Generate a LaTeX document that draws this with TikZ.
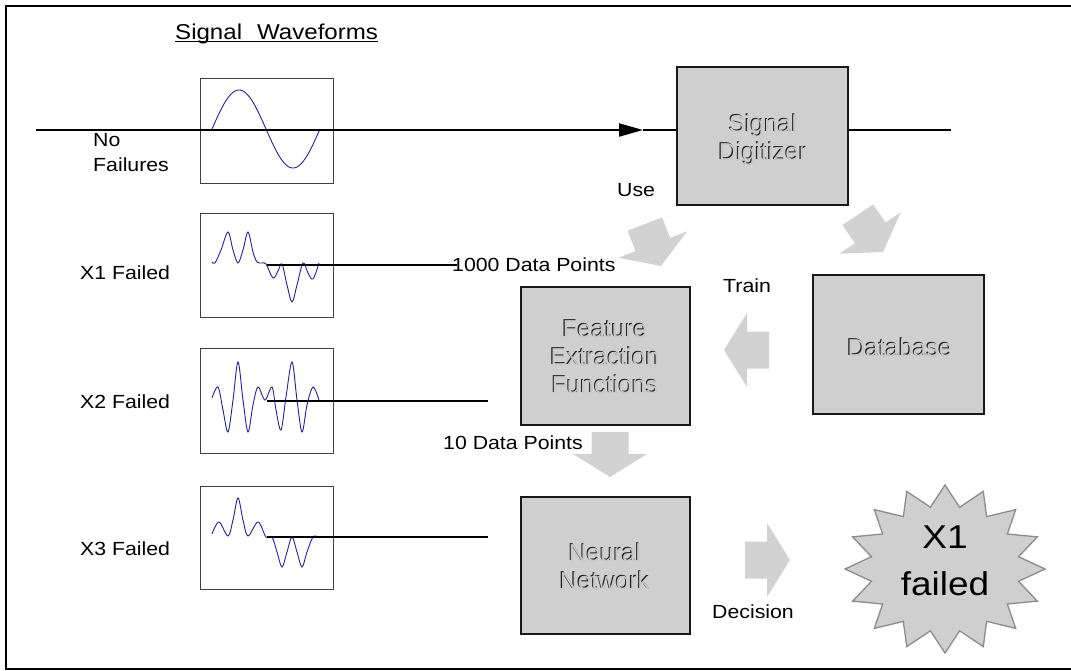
\documentclass[tikz,border=0pt]{standalone}
\usepackage{fontspec}
\setmainfont{Liberation Sans}
\newfontfamily\lblfont{Liberation Sans}[FakeStretch=1.12]
\usetikzlibrary{arrows.meta}
\definecolor{boxgray}{HTML}{CFCFCF}
\definecolor{arrowgray}{HTML}{D2D2D2}
\definecolor{wavecol}{HTML}{22228F}
\definecolor{starline}{HTML}{8C8C8C}
\definecolor{shadowcol}{HTML}{202020}
\definecolor{textlight}{HTML}{C8C8C8}
\tikzset{
  barrow/.pic={\fill[arrowgray] (-45,-18.5) -- (-23,-18.5) -- (-23,-37) -- (0,0) -- (-23,37) -- (-23,18.5) -- (-45,18.5) -- cycle;}
}
\begin{document}
\begin{tikzpicture}[x=1pt,y=-1pt,
  frame/.style={line width=2.2pt},
  gbox/.style={draw=black!90, line width=2pt, fill=boxgray, inner sep=0pt, rectangle},
  wbox/.style={draw=black!75, line width=1pt, inner sep=0pt, rectangle, anchor=north west, minimum width=133pt},
  wave/.style={draw=wavecol, line width=0.9pt},
  sigline/.style={line width=2.2pt},
  lbl/.style={font=\lblfont\fontsize{19}{25}\selectfont, inner sep=0pt},
  titlelbl/.style={font=\lblfont\fontsize{21.5}{25}\selectfont, inner sep=0pt},
  btxtshadow/.style={font=\fontsize{24.5}{28}\selectfont, text=shadowcol, align=center, inner sep=0pt},
  btxt/.style={font=\fontsize{24.5}{28}\selectfont, text=textlight, align=center, inner sep=0pt},
  starlbl/.style={font=\lblfont\fontsize{33}{47}\selectfont, align=center, inner sep=0pt},
]
\useasboundingbox (0,0) rectangle (1071,671);

% frame
\draw[frame] (1080,6) -- (6,6) -- (6,669) -- (1080,669);

% title
\node[titlelbl, anchor=base west] (title) at (175,40) {Signal\hspace{15pt}Waveforms};
\draw[line width=1.4pt] ([yshift=-1.6pt]title.base west) -- ([yshift=-1.6pt]title.base east);

% waveform boxes
\node[wbox, minimum height=105pt] (wb0) at (200,78) {};
\node[wbox, minimum height=104pt] (wb1) at (200,213) {};
\node[wbox, minimum height=105pt] (wb2) at (200,348) {};
\node[wbox, minimum height=103pt] (wb3) at (200,486) {};

% waves
\draw[wave] plot[domain=0:1, samples=80] ({212+108*\x}, {129-39*sin(360*\x)});
\draw[wave] plot[smooth, tension=0.55] coordinates {(212,262) (215,263) (221,250) (228,232) (233,250) (238,263) (243,250) (248,232) (253,252) (257,262) (262,263) (266,264) (273,278) (278,271) (282,264) (287,285) (292,302) (297,285) (303,263) (308,273) (313,279) (319,263)};
\draw[wave] plot[smooth, tension=0.55] coordinates {(212,398) (218,387) (223,410) (228,432) (233,400) (238,362) (243,400) (248,432) (253,405) (258,387) (265,400) (272,387) (276,410) (281,430) (286,397) (292,362) (297,400) (302,432) (307,405) (313,387) (319,400)};
\draw[wave] plot[smooth, tension=0.55] coordinates {(212,534) (219,522) (228,536) (233,520) (238,498) (243,520) (248,536) (258,522) (266,537) (272,537) (277,552) (282,567) (287,552) (292,537) (297,552) (302,567) (307,552) (313,537) (318,537)};

% left labels
\node[lbl, anchor=north west, align=left] (nof) at (93,133.3) {No\\Failures};
\node[lbl, anchor=base west] (x1) at (80,279) {X1 Failed};
\node[lbl, anchor=base west] (x2) at (80,408) {X2 Failed};
\node[lbl, anchor=base west] (x3) at (80,555) {X3 Failed};

% gray boxes
\node[gbox, minimum width=171pt, minimum height=138pt] (digit) at (762.5,136) {};
\node[gbox, minimum width=169pt, minimum height=138pt] (feat) at (605.5,356) {};
\node[gbox, minimum width=171pt, minimum height=139pt] (db) at (898.5,344.5) {};
\node[gbox, minimum width=169pt, minimum height=137pt] (nn) at (605.5,565.5) {};

% box texts (embossed)
\node[btxtshadow] (digit-s) at (761.9,139.1) {Signal\\Digitizer};
\node[btxt] (digit-t) at (763,140.2) {Signal\\Digitizer};
\node[btxtshadow] (feat-s) at (603.9,356.5) {Feature\\Extraction\\Functions};
\node[btxt] (feat-t) at (605,357.6) {Feature\\Extraction\\Functions};
\node[btxtshadow] (db-s) at (898.9,346.9) {Database};
\node[btxt] (db-t) at (900,348) {Database};
\node[btxtshadow] (nn-s) at (603.9,565.9) {Neural\\Network};
\node[btxt] (nn-t) at (605,567) {Neural\\Network};

% main signal line
\coordinate (sigin) at (36,130);
\coordinate (arrowtip) at (643,130);
\coordinate (sigout) at (951,130);
\draw[sigline, -{Triangle[length=24pt,width=13pt]}] (sigin) -- (arrowtip);
\draw[sigline] (arrowtip) -- (arrowtip -| digit.west);
\draw[sigline] (sigout -| digit.east) -- (sigout);

% data labels
\node[lbl, anchor=base west] (pts1) at (452,272) {1000 Data Points};
\node[lbl, anchor=base west] (use) at (617,197) {Use};
\node[lbl, anchor=base west] (train) at (723,292) {Train};
\node[lbl, anchor=base west] (pts10) at (443,449) {10 Data Points};
\node[lbl, anchor=base west] (dec) at (712,618) {Decision};

% waveform feed lines
\coordinate (w1) at (267,265);
\coordinate (w2) at (267,401);
\coordinate (e2) at (488,401);
\coordinate (w3) at (267,537);
\coordinate (e3) at (488,537);
\draw[sigline] (w1) -- ([xshift=5pt]w1 -| pts1.west);
\draw[sigline] (w2) -- (e2);
\draw[sigline] (w3) -- (e3);

% block arrows
\pic[rotate=-69] (aruse) at (661,266) {barrow};
\pic[rotate=-56] (ardb) at (883,252) {barrow};
\pic[rotate=180] (artrain) at (724,350) {barrow};
\pic[rotate=-90] (ar10) at (610,477) {barrow};
\pic (ardec) at (790,560) {barrow};

% star
\draw[draw=starline, line width=1.3pt, fill=boxgray]
  plot[samples at={0,...,31}, variable=\k]
  ({945+(mod(\k,2)==0 ? 100 : 75)*sin(\k*11.25)}, {569-(mod(\k,2)==0 ? 84 : 63)*cos(\k*11.25)}) -- cycle;
\node[starlbl] (fail) at (945,560.7) {X1\\failed};
\end{tikzpicture}
\end{document}
